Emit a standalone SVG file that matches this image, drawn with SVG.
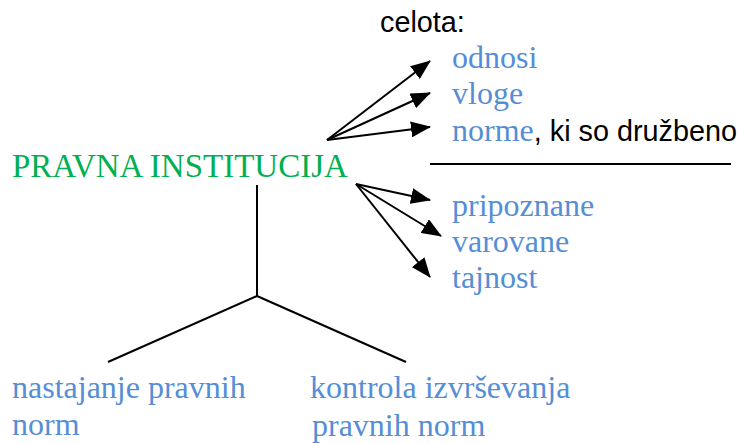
<svg xmlns="http://www.w3.org/2000/svg" width="737" height="443" viewBox="0 0 737 443">
<style>
.s{font-family:"Liberation Serif","Times New Roman",serif;font-size:32px}
.b{fill:#558ED5}
.g{fill:#00B050;font-size:33px}
.k{font-family:"Liberation Sans",Arial,sans-serif;font-size:28.8px;fill:#000}
.ln{stroke:#000;stroke-width:2;fill:none}
</style>
<defs>
<marker id="ah" markerUnits="userSpaceOnUse" markerWidth="20" markerHeight="16" refX="19" refY="8" orient="auto" viewBox="0 0 20 16">
<path d="M0,0 L20,8 L0,16 Z" fill="#000"/>
</marker>
</defs>
<g id="connectors">
<line class="ln" x1="327" y1="140" x2="430" y2="61" marker-end="url(#ah)"/>
<line class="ln" x1="327" y1="140" x2="430" y2="93" marker-end="url(#ah)"/>
<line class="ln" x1="327" y1="140" x2="430" y2="127" marker-end="url(#ah)"/>
<line class="ln" x1="356" y1="184" x2="430" y2="200" marker-end="url(#ah)"/>
<line class="ln" x1="356" y1="184" x2="441" y2="236" marker-end="url(#ah)"/>
<line class="ln" x1="356" y1="184" x2="430" y2="277" marker-end="url(#ah)"/>
<line class="ln" x1="257" y1="185" x2="257" y2="296"/>
<line class="ln" x1="257" y1="296" x2="108" y2="362"/>
<line class="ln" x1="257" y1="296" x2="406" y2="362"/>
<line class="ln" x1="430" y1="164" x2="731" y2="164"/>
</g>
<g id="pravna"><text class="s g" x="12" y="177">PRAVNA INSTITUCIJA</text></g>
<g id="celota">
<text class="k" x="380" y="32">celota:</text>
<text class="s b" x="452" y="68">odnosi</text>
<text class="s b" x="452" y="104">vloge</text>
<text x="452" y="141"><tspan class="s b">norme</tspan><tspan class="k">, ki so družbeno</tspan></text>
</g>
<g id="lastnosti">
<text class="s b" x="452" y="216">pripoznane</text>
<text class="s b" x="452" y="252">varovane</text>
<text class="s b" x="452" y="288">tajnost</text>
</g>
<g id="nastajanje">
<text class="s b" x="12" y="398">nastajanje pravnih</text>
<text class="s b" x="12" y="435">norm</text>
</g>
<g id="kontrola">
<text class="s b" x="310" y="398">kontrola izvrševanja</text>
<text class="s b" x="312" y="436">pravnih norm</text>
</g>
</svg>
